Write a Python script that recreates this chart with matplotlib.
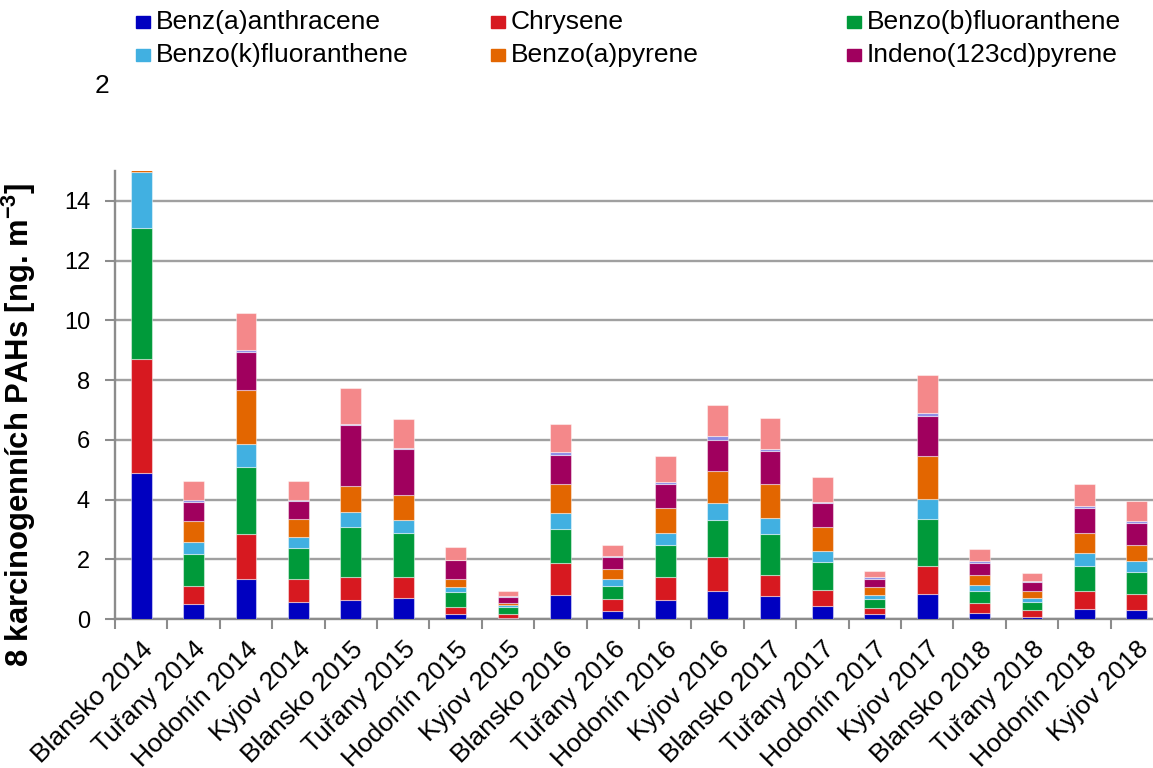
import numpy as np
import matplotlib.pyplot as plt
from matplotlib.patches import Rectangle

plt.rcParams['font.family'] = ['Liberation Sans', 'DejaVu Sans']

# categories
sites = ['Blansko 2014', 'Tuřany 2014', 'Hodonín 2014', 'Kyjov 2014',
         'Blansko 2015', 'Tuřany 2015', 'Hodonín 2015', 'Kyjov 2015',
         'Blansko 2016', 'Tuřany 2016', 'Hodonín 2016', 'Kyjov 2016',
         'Blansko 2017', 'Tuřany 2017', 'Hodonín 2017', 'Kyjov 2017',
         'Blansko 2018', 'Tuřany 2018', 'Hodonín 2018', 'Kyjov 2018']

# series values (ng/m3)
baa = [4.88, 0.49, 1.35, 0.58, 0.65, 0.71, 0.17, 0.05, 0.82, 0.27,
       0.64, 0.93, 0.76, 0.45, 0.16, 0.85, 0.20, 0.08, 0.35, 0.30]
chr_ = [3.83, 0.63, 1.48, 0.76, 0.76, 0.69, 0.23, 0.13, 1.05, 0.39,
        0.78, 1.13, 0.72, 0.53, 0.20, 0.94, 0.35, 0.22, 0.58, 0.54]
bbf = [4.39, 1.06, 2.27, 1.04, 1.68, 1.48, 0.52, 0.21, 1.16, 0.46,
       1.05, 1.25, 1.35, 0.94, 0.32, 1.57, 0.39, 0.27, 0.86, 0.74]
bkf = [1.87, 0.39, 0.77, 0.36, 0.49, 0.42, 0.14, 0.08, 0.53, 0.21,
       0.42, 0.58, 0.55, 0.36, 0.14, 0.67, 0.19, 0.14, 0.41, 0.35]
bap = [1.80, 0.71, 1.80, 0.61, 0.88, 0.86, 0.28, 0.07, 0.96, 0.35,
       0.81, 1.05, 1.13, 0.81, 0.24, 1.44, 0.34, 0.23, 0.67, 0.54]
ind = [1.30, 0.65, 1.27, 0.61, 2.02, 1.54, 0.64, 0.21, 0.97, 0.39,
       0.81, 1.06, 1.10, 0.79, 0.29, 1.34, 0.42, 0.29, 0.86, 0.75]
dba = [0.10, 0.05, 0.07, 0.04, 0.06, 0.04, 0.01, 0.02, 0.11, 0.03,
       0.09, 0.12, 0.08, 0.05, 0.04, 0.10, 0.04, 0.03, 0.07, 0.06]
bgp = [1.30, 0.64, 1.24, 0.62, 1.19, 0.95, 0.41, 0.16, 0.93, 0.38,
       0.85, 1.03, 1.04, 0.82, 0.23, 1.26, 0.41, 0.28, 0.71, 0.68]

series = [baa, chr_, bbf, bkf, bap, ind, dba, bgp]
names = ['Benz(a)anthracene', 'Chrysene', 'Benzo(b)fluoranthene',
         'Benzo(k)fluoranthene', 'Benzo(a)pyrene', 'Indeno(123cd)pyrene',
         'Dibenz(ah)anthracene', 'Benzo(ghi)perylene']
colors = ['#0000C0', '#D71920', '#009A3A', '#41B0E1', '#E36600',
          '#A0005E', '#8C8CE6', '#F4888A']

W, H = 1153, 768
fig = plt.figure(figsize=(W / 100, H / 100), dpi=100)
ax = fig.add_axes([115 / W, 149 / H, 1048 / W, 448 / H])

x = np.arange(len(sites))
bottom = np.zeros(len(sites))
for vals, c in zip(series, colors):
    ax.bar(x, vals, 0.4, bottom=bottom, color=c,
           edgecolor=(1, 1, 1, 0.45), linewidth=0.8, zorder=3)
    bottom += np.array(vals)

ax.set_xlim(-0.5, len(sites) - 0.5)
ax.set_ylim(0, 15)
ax.set_yticks(np.arange(0, 15, 2))
ax.yaxis.grid(True, color='#A0A0A0', linewidth=1.7, zorder=0)
ax.set_axisbelow(True)

ax.set_xticks(x)
ax.set_xticklabels(sites, rotation=45, ha='right', rotation_mode='anchor',
                   fontsize=19)
ax.set_xticks(np.arange(-0.5, len(sites)), minor=True)
ax.tick_params(axis='x', which='major', length=0, pad=13)
ax.tick_params(axis='x', which='minor', length=7, width=1.5, color='#8C8C8C')
ax.tick_params(axis='y', length=7, width=1.5, color='#8C8C8C', labelsize=17, pad=11)

for s in ['top', 'right']:
    ax.spines[s].set_visible(False)
for s in ['left', 'bottom']:
    ax.spines[s].set_color('#8C8C8C')
    ax.spines[s].set_linewidth(1.7)

ax.set_ylabel('8 karcinogenních PAHs [ng. m$^{\\mathregular{-3}}$]', fontsize=23,
              fontweight='bold')
ax.yaxis.set_label_coords(-0.0735, 0.434)

# scale the y label so it spans about 485 px like the original
fig.canvas.draw()
lab = ax.yaxis.label
span = lab.get_window_extent().height
lab.set_fontsize(23 * 485 / span)

# legend drawn by hand: 3 columns x 2 rows
col_x = [136, 491, 847]
row_y = [22, 55]
for i in range(6):
    cx = col_x[i % 3]
    cy = row_y[i // 3]
    fig.patches.append(Rectangle((cx / W, 1 - (cy + 6) / H), 14 / W, 12 / H,
                                 transform=fig.transFigure, color=colors[i]))
    fig.text((cx + 20) / W, 1 - cy / H, names[i], fontsize=19,
             va='center', ha='left')

fig.text(102 / W, 1 - 86 / H, '2', fontsize=19, ha='center', va='center')

fig.savefig('out.png', dpi=100)
